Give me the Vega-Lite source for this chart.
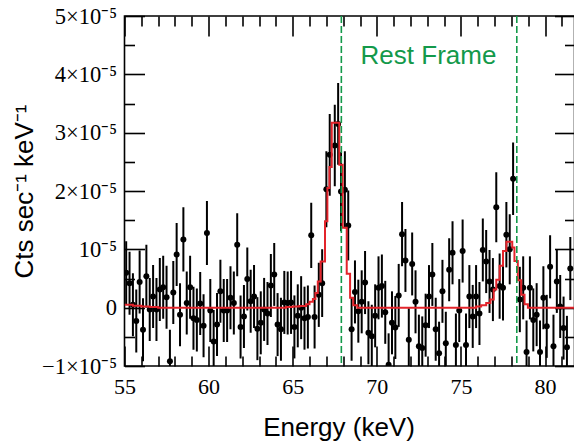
{
  "$schema": "https://vega.github.io/schema/vega-lite/v6.json",
  "width": 450,
  "height": 350,
  "autosize": {"type": "none"},
  "padding": {"left": 124.5, "top": 16, "right": 0, "bottom": 81},
  "background": "white",
  "config": {
    "view": {"stroke": "black", "strokeWidth": 1.6},
    "axis": {"domain": false, "grid": false, "labelFlush": false, "labelOverlap": false, "labelColor": "black", "titleColor": "black", "tickColor": "black", "tickWidth": 1.6}
  },
  "datasets": {
    "spectrum": [
      {"E":55.1,"y":0.60e-5,"err":0.54e-5},{"E":55.3,"y":0.42e-5,"err":0.54e-5},{"E":55.5,"y":0.05e-5,"err":0.54e-5},{"E":55.7,"y":-0.23e-5,"err":0.54e-5},
      {"E":55.9,"y":0.44e-5,"err":0.54e-5},{"E":56.1,"y":-0.38e-5,"err":0.54e-5},{"E":56.3,"y":0.54e-5,"err":0.54e-5},{"E":56.5,"y":-0.03e-5,"err":0.54e-5},
      {"E":56.7,"y":0.19e-5,"err":0.54e-5},{"E":56.9,"y":-0.03e-5,"err":0.54e-5},{"E":57.1,"y":0.31e-5,"err":0.54e-5},{"E":57.3,"y":0.35e-5,"err":0.54e-5},
      {"E":57.5,"y":0.18e-5,"err":0.54e-5},{"E":57.7,"y":-0.92e-5,"err":0.54e-5},{"E":57.9,"y":0.26e-5,"err":0.54e-5},{"E":58.1,"y":0.91e-5,"err":0.54e-5},
      {"E":58.3,"y":-0.12e-5,"err":0.54e-5},{"E":58.5,"y":1.17e-5,"err":0.55e-5},{"E":58.7,"y":0.08e-5,"err":0.54e-5},{"E":58.9,"y":0.35e-5,"err":0.54e-5},
      {"E":59.1,"y":-0.18e-5,"err":0.54e-5},{"E":59.3,"y":-0.21e-5,"err":0.54e-5},{"E":59.5,"y":0.07e-5,"err":0.54e-5},{"E":59.7,"y":-0.31e-5,"err":0.54e-5},
      {"E":59.9,"y":1.28e-5,"err":0.55e-5},{"E":60.1,"y":-0.05e-5,"err":0.54e-5},{"E":60.3,"y":-0.58e-5,"err":0.54e-5},{"E":60.5,"y":-0.29e-5,"err":0.54e-5},
      {"E":60.7,"y":0.28e-5,"err":0.54e-5},{"E":60.9,"y":-0.05e-5,"err":0.54e-5},{"E":61.1,"y":-0.05e-5,"err":0.54e-5},{"E":61.3,"y":0.17e-5,"err":0.54e-5},
      {"E":61.5,"y":0.08e-5,"err":0.54e-5},{"E":61.7,"y":1.08e-5,"err":0.54e-5},{"E":61.9,"y":-0.33e-5,"err":0.54e-5},{"E":62.1,"y":-0.15e-5,"err":0.54e-5},
      {"E":62.3,"y":0.49e-5,"err":0.54e-5},{"E":62.5,"y":0.11e-5,"err":0.54e-5},{"E":62.7,"y":0.19e-5,"err":0.54e-5},{"E":62.9,"y":-0.36e-5,"err":0.54e-5},
      {"E":63.1,"y":-0.26e-5,"err":0.54e-5},{"E":63.3,"y":-0.03e-5,"err":0.54e-5},{"E":63.5,"y":-0.10e-5,"err":0.54e-5},{"E":63.7,"y":0.38e-5,"err":0.54e-5},
      {"E":63.9,"y":0.57e-5,"err":0.54e-5},{"E":64.1,"y":-0.29e-5,"err":0.54e-5},{"E":64.3,"y":-0.37e-5,"err":0.54e-5},{"E":64.5,"y":0.09e-5,"err":0.54e-5},
      {"E":64.7,"y":0.08e-5,"err":0.54e-5},{"E":64.9,"y":0.09e-5,"err":0.54e-5},{"E":65.1,"y":-0.33e-5,"err":0.54e-5},{"E":65.3,"y":-0.14e-5,"err":0.54e-5},
      {"E":65.5,"y":0.00e-5,"err":0.54e-5},{"E":65.7,"y":-0.18e-5,"err":0.54e-5},{"E":65.9,"y":-0.16e-5,"err":0.54e-5},{"E":66.1,"y":1.24e-5,"err":0.56e-5},
      {"E":66.3,"y":-0.16e-5,"err":0.54e-5},{"E":66.55,"y":0.22e-5,"err":0.55e-5},{"E":66.75,"y":0.42e-5,"err":0.58e-5},{"E":67.0,"y":2.03e-5,"err":0.65e-5},
      {"E":67.2,"y":2.62e-5,"err":0.70e-5},{"E":67.5,"y":2.78e-5,"err":0.70e-5},{"E":67.7,"y":3.15e-5,"err":0.70e-5},{"E":67.87,"y":1.99e-5,"err":0.68e-5},
      {"E":68.1,"y":2.02e-5,"err":0.66e-5},{"E":68.3,"y":1.41e-5,"err":0.60e-5},{"E":68.5,"y":-0.37e-5,"err":0.54e-5},{"E":68.7,"y":0.27e-5,"err":0.54e-5},
      {"E":68.9,"y":-0.06e-5,"err":0.54e-5},{"E":69.1,"y":0.10e-5,"err":0.54e-5},{"E":69.3,"y":0.43e-5,"err":0.54e-5},{"E":69.5,"y":-0.43e-5,"err":0.54e-5},
      {"E":69.7,"y":-0.49e-5,"err":0.54e-5},{"E":69.9,"y":-0.14e-5,"err":0.54e-5},{"E":70.1,"y":0.34e-5,"err":0.54e-5},{"E":70.3,"y":0.37e-5,"err":0.54e-5},
      {"E":70.5,"y":-0.08e-5,"err":0.54e-5},{"E":70.7,"y":-0.98e-5,"err":0.54e-5},{"E":70.9,"y":-0.26e-5,"err":0.54e-5},{"E":71.1,"y":-0.34e-5,"err":0.54e-5},
      {"E":71.3,"y":0.21e-5,"err":0.54e-5},{"E":71.5,"y":1.26e-5,"err":0.55e-5},{"E":71.7,"y":0.81e-5,"err":0.54e-5},{"E":71.9,"y":-0.55e-5,"err":0.54e-5},
      {"E":72.1,"y":0.75e-5,"err":0.54e-5},{"E":72.3,"y":0.10e-5,"err":0.54e-5},{"E":72.5,"y":-0.66e-5,"err":0.54e-5},{"E":72.7,"y":-0.69e-5,"err":0.54e-5},
      {"E":72.9,"y":-0.30e-5,"err":0.54e-5},{"E":73.1,"y":0.19e-5,"err":0.54e-5},{"E":73.3,"y":0.57e-5,"err":0.54e-5},{"E":73.5,"y":-0.37e-5,"err":0.54e-5},
      {"E":73.7,"y":-0.78e-5,"err":0.54e-5},{"E":73.9,"y":0.28e-5,"err":0.54e-5},{"E":74.1,"y":-0.61e-5,"err":0.54e-5},{"E":74.3,"y":0.65e-5,"err":0.54e-5},
      {"E":74.5,"y":0.94e-5,"err":0.54e-5},{"E":74.7,"y":-0.64e-5,"err":0.54e-5},{"E":74.9,"y":-0.05e-5,"err":0.54e-5},{"E":75.1,"y":0.97e-5,"err":0.54e-5},
      {"E":75.3,"y":-0.64e-5,"err":0.54e-5},{"E":75.5,"y":0.19e-5,"err":0.54e-5},{"E":75.7,"y":-0.15e-5,"err":0.54e-5},{"E":75.9,"y":0.19e-5,"err":0.54e-5},
      {"E":76.1,"y":-0.10e-5,"err":0.54e-5},{"E":76.3,"y":0.99e-5,"err":0.54e-5},{"E":76.5,"y":0.79e-5,"err":0.54e-5},{"E":76.7,"y":0.45e-5,"err":0.54e-5},
      {"E":76.9,"y":0.31e-5,"err":0.54e-5},{"E":77.1,"y":1.72e-5,"err":0.60e-5},{"E":77.3,"y":0.37e-5,"err":0.56e-5},{"E":77.5,"y":0.34e-5,"err":0.56e-5},
      {"E":77.7,"y":1.25e-5,"err":0.56e-5},{"E":77.9,"y":1.00e-5,"err":0.60e-5},{"E":78.1,"y":2.21e-5,"err":0.62e-5},{"E":78.5,"y":0.14e-5,"err":0.56e-5},
      {"E":78.7,"y":0.34e-5,"err":0.54e-5},{"E":78.9,"y":-0.76e-5,"err":0.54e-5},{"E":79.1,"y":0.34e-5,"err":0.54e-5},{"E":79.3,"y":-0.21e-5,"err":0.54e-5},
      {"E":79.5,"y":-0.12e-5,"err":0.54e-5},{"E":79.7,"y":-0.76e-5,"err":0.54e-5},{"E":79.9,"y":0.17e-5,"err":0.54e-5},{"E":80.1,"y":-0.32e-5,"err":0.54e-5},
      {"E":80.3,"y":0.70e-5,"err":0.54e-5},{"E":80.5,"y":-0.66e-5,"err":0.54e-5},{"E":80.7,"y":0.45e-5,"err":0.54e-5},{"E":80.9,"y":0.02e-5,"err":0.54e-5},
      {"E":81.1,"y":-0.35e-5,"err":0.54e-5},{"E":81.3,"y":-0.68e-5,"err":0.54e-5},{"E":81.5,"y":0.67e-5,"err":0.54e-5}
    ],
    "model": [
      {"E":55.0,"m":0.05e-5},{"E":55.5,"m":0.035e-5},{"E":56.0,"m":0.02e-5},{"E":56.5,"m":0.01e-5},{"E":57.0,"m":0.0},
      {"E":64.6,"m":0.01e-5},{"E":65.0,"m":0.02e-5},{"E":65.4,"m":0.03e-5},{"E":65.8,"m":0.06e-5},{"E":66.0,"m":0.10e-5},
      {"E":66.2,"m":0.15e-5},{"E":66.35,"m":0.25e-5},{"E":66.49,"m":0.45e-5},{"E":66.66,"m":0.79e-5},{"E":66.92,"m":1.48e-5},
      {"E":67.06,"m":2.05e-5},{"E":67.18,"m":2.41e-5},{"E":67.32,"m":3.17e-5},{"E":67.77,"m":2.45e-5},{"E":67.97,"m":1.37e-5},
      {"E":68.21,"m":0.58e-5},{"E":68.41,"m":0.17e-5},{"E":68.6,"m":0.04e-5},{"E":68.84,"m":0.0},{"E":75.5,"m":0.0},
      {"E":75.9,"m":0.02e-5},{"E":76.2,"m":0.04e-5},{"E":76.5,"m":0.08e-5},{"E":76.75,"m":0.14e-5},{"E":76.95,"m":0.31e-5},
      {"E":77.1,"m":0.48e-5},{"E":77.3,"m":0.72e-5},{"E":77.5,"m":0.97e-5},{"E":77.7,"m":1.13e-5},{"E":78.05,"m":1.03e-5},
      {"E":78.18,"m":0.80e-5},{"E":78.38,"m":0.47e-5},{"E":78.58,"m":0.22e-5},{"E":78.78,"m":0.06e-5},{"E":78.98,"m":0.0},
      {"E":81.75,"m":0.0}
    ],
    "rest": [{"E":67.89},{"E":78.32}],
    "label": [{"E":73.07,"y":4.31e-5,"text":"Rest Frame"}]
  },
  "layer": [
    {
      "data": {"name": "spectrum"},
      "mark": {"type": "errorbar", "color": "black", "thickness": 2, "clip": true},
      "encoding": {
        "x": {"field": "E", "type": "quantitative",
          "scale": {"domain": [55, 81.75], "nice": false, "zero": false},
          "axis": {"orient": "bottom", "values": [55,60,65,70,75,80], "ticks": false,
            "labelFont": "Liberation Serif", "labelFontSize": 22, "labelPadding": 10,
            "title": "Energy (keV)", "titleFont": "Liberation Sans", "titleFontSize": 26, "titleFontWeight": "normal",
            "titleX": 214, "titleY": 69, "titleBaseline": "alphabetic", "titleAlign": "center"}},
        "y": {"field": "y", "type": "quantitative",
          "scale": {"domain": [-1e-5, 5e-5], "nice": false, "zero": false},
          "axis": {"orient": "left", "values": [-1e-5,0,1e-5,2e-5,3e-5,4e-5,5e-5], "ticks": false,
            "labelExpr": "datum.value == 0 ? '0' : abs(datum.value - 1e-5) < 1e-9 ? '10⁻⁵' : datum.value < 0 ? '−1×10⁻⁵' : format(datum.value * 1e5, '.0f') + '×10⁻⁵'",
            "labelFont": "Liberation Serif", "labelFontSize": 22.5, "labelPadding": 8,
            "title": "Cts sec⁻¹ keV⁻¹", "titleFont": "Liberation Sans", "titleFontSize": 26, "titleFontWeight": "normal",
            "titleX": -100, "titleY": 175, "titleAngle": -90, "titleBaseline": "middle", "titleAlign": "center"}},
        "yError": {"field": "err"}
      }
    },
    {
      "data": {"name": "spectrum"},
      "mark": {"type": "circle", "color": "black", "size": 36, "opacity": 1, "clip": true},
      "encoding": {
        "x": {"field": "E", "type": "quantitative",
          "axis": {"orient": "bottom", "values": [55,56,57,58,59,60,61,62,63,64,65,66,67,68,69,70,71,72,73,74,75,76,77,78,79,80,81],
            "labels": false, "title": null,
            "tickSize": {"condition": {"test": "datum.value % 5 == 0", "value": -20}, "value": -10}}},
        "y": {"field": "y", "type": "quantitative",
          "axis": {"orient": "left", "values": [-1e-5,-0.5e-5,0,0.5e-5,1e-5,1.5e-5,2e-5,2.5e-5,3e-5,3.5e-5,4e-5,4.5e-5,5e-5],
            "labels": false, "title": null,
            "tickSize": {"condition": {"test": "abs(datum.value*1e5 - round(datum.value*1e5)) < 0.01", "value": -20}, "value": -10}}}
      }
    },
    {
      "data": {"name": "model"},
      "mark": {"type": "line", "interpolate": "step-after", "color": "#e3242b", "strokeWidth": 2, "clip": true},
      "encoding": {
        "x": {"field": "E", "type": "quantitative",
          "axis": {"orient": "top", "values": [55,56,57,58,59,60,61,62,63,64,65,66,67,68,69,70,71,72,73,74,75,76,77,78,79,80,81],
            "labels": false, "title": null,
            "tickSize": {"condition": {"test": "datum.value % 5 == 0", "value": -20}, "value": -10}}},
        "y": {"field": "m", "type": "quantitative",
          "axis": {"orient": "right", "values": [-1e-5,-0.5e-5,0,0.5e-5,1e-5,1.5e-5,2e-5,2.5e-5,3e-5,3.5e-5,4e-5,4.5e-5,5e-5],
            "labels": false, "title": null,
            "tickSize": {"condition": {"test": "abs(datum.value*1e5 - round(datum.value*1e5)) < 0.01", "value": -20}, "value": -10}}}
      }
    },
    {
      "data": {"name": "rest"},
      "mark": {"type": "rule", "color": "#13994a", "strokeWidth": 1.6, "strokeDash": [7, 3]},
      "encoding": {"x": {"field": "E", "type": "quantitative", "axis": null}}
    },
    {
      "data": {"name": "label"},
      "mark": {"type": "text", "color": "#13994a", "font": "Liberation Sans", "fontSize": 26, "align": "center", "baseline": "middle"},
      "encoding": {
        "x": {"field": "E", "type": "quantitative", "axis": null},
        "y": {"field": "y", "type": "quantitative", "axis": null},
        "text": {"field": "text"}
      }
    }
  ],
  "resolve": {"axis": {"x": "independent", "y": "independent"}}
}
